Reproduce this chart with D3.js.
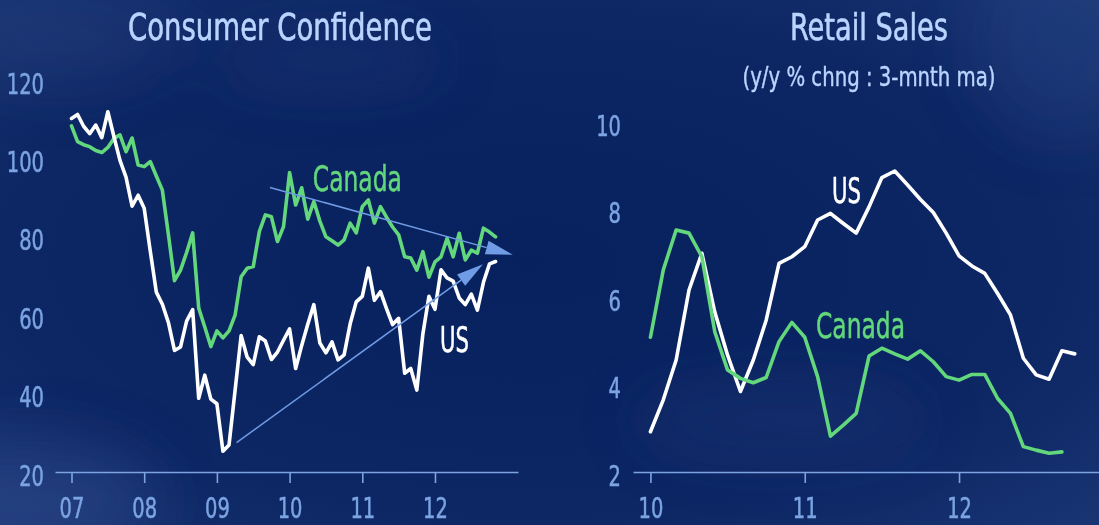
<!DOCTYPE html>
<html>
<head>
<meta charset="utf-8">
<script src="https://cdn.jsdelivr.net/npm/d3@7"></script>
<style>
  html, body { margin: 0; padding: 0; background: #0c2463; }
  svg { display: block; }
  text { font-family: "Liberation Sans Narrow", "Arial Narrow", "DejaVu Sans Condensed", sans-serif; }
</style>
</head>
<body>
<svg id="chart" width="1099" height="525"></svg>
<script>
// ---- data (monthly) ----
// consumer confidence, Jan 2007 .. Nov 2012
const confStart = 2007;
const confUS = [110.2,111.2,108.2,106.3,108.5,105.3,111.9,105.6,99.5,95.2,87.8,90.6,
  87.3,76.4,65.9,62.8,58.1,51.0,51.9,58.5,61.4,38.8,44.7,38.6,
  37.4,25.3,26.9,40.8,54.8,49.3,47.4,54.5,53.4,48.7,50.6,53.6,
  56.5,46.4,52.3,57.7,62.7,52.9,50.4,53.2,48.6,49.9,57.8,63.4,
  64.8,72.0,63.8,66.0,61.7,57.6,59.2,45.2,46.4,40.9,55.2,64.8,
  61.5,71.6,69.5,68.7,64.4,62.7,65.4,61.3,68.4,73.1,73.7];
const confCanada = [108.3,104.3,103.5,103,102,101.5,102.8,105.1,106,101.7,105.2,98.3,
  97.9,99.2,95.5,91.9,80.5,68.8,71.5,76,81,61.8,57,52,
  56,54.2,56,60,69.8,72,72.4,81.3,85.6,85.1,78.8,82.6,
  96.4,88.1,92.5,84.5,89,84,80,79,77.9,79.2,83.5,81,
  87.7,89.4,83.5,87.7,85,82.5,80.5,74.9,74.6,71.5,76.2,69.7,
  73.6,74.9,79.6,74.9,80.9,74.1,76.6,75.8,82.2,81.2,80];

// retail sales y/y % 3m ma, Jan 2010 ..
const retailStart = 2010;
const retailUS = [2.92,3.65,4.56,6.16,7.0,5.66,4.67,3.84,4.56,5.47,6.77,6.92,
  7.15,7.76,7.91,7.68,7.46,8.06,8.73,8.88,8.56,8.23,7.93,7.46,
  6.94,6.71,6.54,6.08,5.59,4.6,4.22,4.12,4.77,4.70];
const retailCanada = [5.08,6.62,7.53,7.46,6.92,5.21,4.33,4.14,4.04,4.16,4.98,5.42,
  5.08,4.18,2.82,3.07,3.34,4.65,4.83,4.70,4.58,4.77,4.52,4.18,
  4.10,4.23,4.23,3.68,3.34,2.58,2.50,2.43,2.46];

// ticks
const confYears = [2007, 2008, 2009, 2010, 2011, 2012];
const confYTicks = [20, 40, 60, 80, 100, 120];
const retailYears = [2010, 2011, 2012];
const retailYTicks = [2, 4, 6, 8, 10];

// trend arrows (year, value)
const canadaTrend = [[2009.73, 92.6], [2013.07, 75.4]];
const usTrend = [[2009.27, 27.5], [2012.66, 73.0]];

// series labels (year, value at baseline)
const confLabels = [{text: "Canada", x: 2010.32, y: 91.7, cls: "ca"}, {text: "US", x: 2012.07, y: 50.6, cls: "us"}];
const retailLabels = [{text: "US", x: 2011.176, y: 8.15, cls: "us"}, {text: "Canada", x: 2011.073, y: 5.06, cls: "ca"}];

// ---- styles ----
const green = "#63d77c";
const white = "#ffffff";
const tickCol = "#7ca4e2";
const titleCol = "#b9d5ff";
const arrowCol = "#6f9ce4";
const digitW = 12.4; // condensed digit width

const svg = d3.select("#chart");
const W = 1099, H = 525;

// background
const defs = svg.append("defs");
const bg = defs.append("radialGradient").attr("id", "bg")
  .attr("cx", "0.48").attr("cy", "0.5").attr("r", "0.8");
bg.append("stop").attr("offset", "0").attr("stop-color", "#07205e");
bg.append("stop").attr("offset", "0.6").attr("stop-color", "#0d2664");
bg.append("stop").attr("offset", "1").attr("stop-color", "#1d3a78");
defs.append("filter").attr("id", "blur").append("feGaussianBlur").attr("stdDeviation", 30);

svg.append("rect").attr("width", W).attr("height", H).attr("fill", "url(#bg)");
const blobs = svg.append("g").attr("filter", "url(#blur)");
[[20, 500, 140, 60, 0.35], [60, 40, 120, 50, 0.15], [1060, 40, 90, 100, 0.2], [780, 420, 150, 40, 0.15], [330, 60, 120, 30, 0.15]]
  .forEach(b => blobs.append("ellipse").attr("cx", b[0]).attr("cy", b[1]).attr("rx", b[2]).attr("ry", b[3])
    .attr("fill", "#3a5a9a").attr("opacity", b[4]));

// slightly heavier text, like the original condensed face
const bolden = (sel, col, w) => sel.attr("stroke", col).attr("stroke-width", w);

function drawPanel(o) {
  const g = svg.append("g");
  const x = d3.scaleLinear().domain(o.xDomain).range(o.xRange);
  const y = d3.scaleLinear().domain(o.yDomain).range(o.yRange);

  // title
  bolden(g.append("text").attr("x", o.titleX).attr("y", 40).attr("text-anchor", "middle")
    .attr("fill", titleCol).style("font-size", "38px")
    .attr("textLength", o.titleW).attr("lengthAdjust", "spacingAndGlyphs")
    .text(o.title), titleCol, 0.6);
  if (o.subtitle) {
    bolden(g.append("text").attr("x", o.titleX).attr("y", 86).attr("text-anchor", "middle")
      .attr("fill", titleCol).style("font-size", "26px")
      .attr("textLength", 253).attr("lengthAdjust", "spacingAndGlyphs")
      .text(o.subtitle), titleCol, 0.4);
  }

  // x axis
  const xAxis = g.append("g").attr("transform", `translate(0,${o.yRange[0]})`)
    .call(d3.axisBottom(x).tickValues(o.xTicks).tickSize(11).tickSizeOuter(0)
      .tickFormat(d => String(d % 100).padStart(2, "0")));
  xAxis.select(".domain").attr("stroke", tickCol).attr("stroke-width", 1.6);
  xAxis.selectAll(".tick line").attr("stroke", tickCol).attr("stroke-width", 1.6);
  bolden(xAxis.selectAll(".tick text").attr("y", 46).attr("dy", 0)
    .attr("fill", tickCol).style("font-size", "28px").style("font-family", null)
    .attr("textLength", d => 2 * digitW).attr("lengthAdjust", "spacingAndGlyphs"), tickCol, 0.5);

  // y axis labels
  const yAxis = g.append("g").attr("transform", `translate(${o.yLabelX},0)`)
    .call(d3.axisLeft(y).tickValues(o.yTicks).tickSize(0).tickPadding(0));
  yAxis.select(".domain").remove();
  bolden(yAxis.selectAll(".tick text").attr("dy", 13).attr("fill", tickCol)
    .style("font-size", "28px").style("font-family", null)
    .attr("textLength", d => String(d).length * digitW).attr("lengthAdjust", "spacingAndGlyphs"), tickCol, 0.5);

  // series
  const line = start => d3.line().x((d, i) => x(start + i / 12)).y(d => y(d)).curve(d3.curveLinear);
  o.series.forEach(s => {
    g.append("path").datum(s.values).attr("fill", "none").attr("stroke", s.color)
      .attr("stroke-width", 3.6).attr("stroke-linejoin", "round").attr("stroke-linecap", "round")
      .attr("d", line(o.start));
  });

  // trend arrows
  (o.trends || []).forEach(t => {
    const x0 = x(t[0][0]), y0 = y(t[0][1]), x1 = x(t[1][0]), y1 = y(t[1][1]);
    const a = Math.atan2(y1 - y0, x1 - x0);
    const len = 27, hw = 7;
    const bx = x1 - len * Math.cos(a), by = y1 - len * Math.sin(a);
    g.append("line").attr("x1", x0).attr("y1", y0).attr("x2", bx).attr("y2", by)
      .attr("stroke", arrowCol).attr("stroke-width", 1.5);
    const px = -Math.sin(a) * hw, py = Math.cos(a) * hw;
    g.append("polygon").attr("fill", arrowCol)
      .attr("points", [[x1, y1], [bx + px, by + py], [bx - px, by - py]].map(p => p.join(",")).join(" "));
  });

  // labels
  o.labels.forEach(l => {
    const c = l.cls === "ca" ? green : white;
    bolden(g.append("text").attr("x", x(l.x)).attr("y", y(l.y))
      .attr("fill", c).style("font-size", "35px")
      .attr("textLength", l.text === "US" ? 29 : 89).attr("lengthAdjust", "spacingAndGlyphs")
      .text(l.text), c, 0.5);
  });
}

drawPanel({
  title: "Consumer Confidence", titleX: 280, titleW: 304,
  xDomain: [2006.773, 2013.142], xRange: [55, 518], xTicks: confYears,
  yDomain: [20, 120], yRange: [472, 80], yTicks: confYTicks, yLabelX: 44,
  start: confStart,
  series: [{values: confCanada, color: green}, {values: confUS, color: white}],
  trends: [canadaTrend, usTrend],
  labels: confLabels
});

drawPanel({
  title: "Retail Sales", titleX: 869, titleW: 158,
  subtitle: "(y/y % chng : 3-mnth ma)",
  xDomain: [2009.887, 2012.907], xRange: [633, 1099], xTicks: retailYears,
  yDomain: [2, 10], yRange: [472, 122], yTicks: retailYTicks, yLabelX: 621,
  start: retailStart,
  series: [{values: retailUS, color: white}, {values: retailCanada, color: green}],
  labels: retailLabels
});
</script>
</body>
</html>
